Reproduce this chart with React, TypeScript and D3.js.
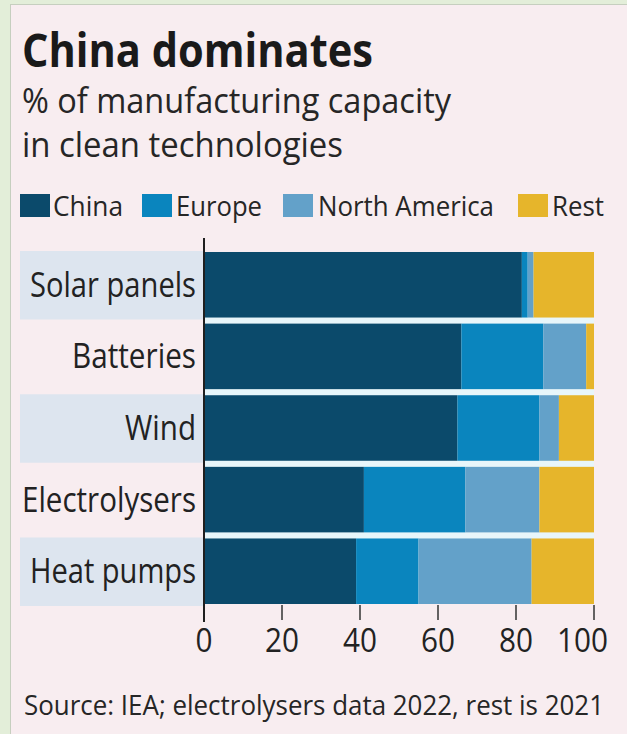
import React from 'react';
import * as d3 from 'd3';

const categories = ['Solar panels', 'Batteries', 'Wind', 'Electrolysers', 'Heat pumps'];
const seriesNames = ['China', 'Europe', 'North America', 'Rest'];
const china = [81.5, 66, 65, 41, 39];
const europe = [1.5, 21, 21, 26, 16];
const northAmerica = [1.5, 11, 5, 19, 29];
const rest = [15.5, 2, 9, 14, 16];
const tickValues = [0, 20, 40, 60, 80, 100];
const colors = ['#0b4a6b', '#0a85be', '#63a1c9', '#e6b52b'];

const FONT = "'Open Sans', 'Noto Sans', sans-serif";

export default function App() {
  const W = 627;
  const H = 734;
  const x = d3.scaleLinear().domain([0, 100]).range([204, 594]);
  const y = d3.scaleBand<string>().domain(categories).range([252, 604]).paddingInner(0.085).paddingOuter(0);

  const rows = categories.map((c, i) => ({
    cat: c,
    China: china[i],
    Europe: europe[i],
    'North America': northAmerica[i],
    Rest: rest[i],
  }));
  const stacked = d3.stack<any>().keys(seriesNames)(rows);

  const legendSquares = [20, 142, 283, 518];
  const legendText = [
    { x: 53, len: 70 },
    { x: 176, len: 86 },
    { x: 318, len: 176 },
    { x: 552, len: 52 },
  ];
  const catLen = [166, 124, 71, 174, 166];

  return (
    <svg
      width={W}
      height={H}
      style={{ position: 'absolute', left: 0, top: 0, display: 'block' }}
      fontFamily={FONT}
    >
      <rect x={0} y={0} width={W} height={H} fill="#e3eed9" />
      <rect x={10.5} y={4.5} width={W} height={H} fill="#f8edf0" stroke="#c6cfbf" strokeWidth={1} />

      {/* Title */}
      <text x={22} y={67} fontSize={47} fontWeight={700} fill="#1a1a1a" textLength={351} lengthAdjust="spacingAndGlyphs">
        China dominates
      </text>
      <text x={22} y={113} fontSize={34} fill="#262626" textLength={429} lengthAdjust="spacingAndGlyphs">
        % of manufacturing capacity
      </text>
      <text x={22} y={157} fontSize={34} fill="#262626" textLength={321} lengthAdjust="spacingAndGlyphs">
        in clean technologies
      </text>

      {/* Legend */}
      {seriesNames.map((s, i) => (
        <g key={s}>
          <rect x={legendSquares[i]} y={194} width={30} height={23} fill={colors[i]} />
          <text
            x={legendText[i].x}
            y={216}
            fontSize={28}
            fill="#262626"
            textLength={legendText[i].len}
            lengthAdjust="spacingAndGlyphs"
          >
            {s}
          </text>
        </g>
      ))}

      {/* Row bands */}
      {categories.map((c, i) =>
        i % 2 === 0 ? (
          <rect key={c} x={20} y={(y(c) as number) - 1} width={204 - 20} height={y.bandwidth() + 3} fill="#dde5ef" />
        ) : null
      )}

      {/* gap backdrop */}
      <rect x={x(0)} y={y(categories[0])} width={x(100) - x(0)} height={(y(categories[4]) as number) + y.bandwidth() - (y(categories[0]) as number)} fill="#e8f6fa" />

      {/* Bars */}
      {stacked.map((layer, si) => (
        <g key={layer.key} fill={colors[si]}>
          {layer.map((d: any, i: number) => (
            <rect
              key={i}
              x={x(d[0])}
              y={y(d.data.cat)}
              width={Math.max(0, x(d[1]) - x(d[0]))}
              height={y.bandwidth()}
            />
          ))}
        </g>
      ))}

      {/* Category labels */}
      {categories.map((c, i) => (
        <text
          key={c}
          x={196}
          y={(y(c) as number) + y.bandwidth() / 2 + 12}
          fontSize={34}
          fill="#222"
          textAnchor="end"
          textLength={catLen[i]}
          lengthAdjust="spacingAndGlyphs"
        >
          {c}
        </text>
      ))}

      {/* Axis */}
      <line x1={x(0)} x2={x(0)} y1={238} y2={622} stroke="#1f1f1f" strokeWidth={2} />
      {tickValues.slice(1).map((t) => (
        <line key={t} x1={x(t)} x2={x(t)} y1={605} y2={620} stroke="#333" strokeWidth={1.5} />
      ))}
      {tickValues.map((t, i) => {
        const last = i === tickValues.length - 1;
        const s = String(t);
        return (
          <text
            key={t}
            x={last ? x(t) + 14 : x(t)}
            y={652}
            fontSize={32}
            fill="#222"
            textAnchor={last ? 'end' : 'middle'}
            textLength={s.length * 17}
            lengthAdjust="spacingAndGlyphs"
          >
            {s}
          </text>
        );
      })}

      {/* Source */}
      <text x={24} y={715} fontSize={27} fill="#262626" textLength={580} lengthAdjust="spacingAndGlyphs">
        Source: IEA; electrolysers data 2022, rest is 2021
      </text>
    </svg>
  );
}
